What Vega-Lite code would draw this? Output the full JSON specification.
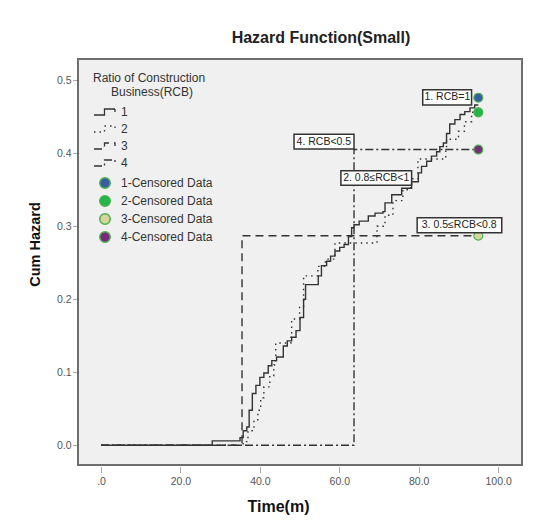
{
  "$schema": "https://vega.github.io/schema/vega-lite/v6.json",
  "width": 444,
  "height": 406,
  "autosize": {"type": "none"},
  "padding": {"left": 78, "top": 59, "right": 16, "bottom": 62},
  "background": "white",
  "title": {"text": "Hazard Function(Small)", "fontSize": 16, "font": "Liberation Sans", "fontWeight": "bold", "color": "#222", "offset": 13, "dx": 21},
  "config": {"view": {"fill": "#f0f0f0", "stroke": "#6e6e6e", "strokeWidth": 2}, "font": "Liberation Sans"},
  "datasets": {
    "curves": [
      {"g": "1", "t": 0, "h": 0}, {"g": "1", "t": 28, "h": 0.006}, {"g": "1", "t": 35, "h": 0.0105}, {"g": "1", "t": 35.8, "h": 0.02}, {"g": "1", "t": 36.7, "h": 0.025}, {"g": "1", "t": 37.3, "h": 0.048}, {"g": "1", "t": 38.1, "h": 0.071}, {"g": "1", "t": 39, "h": 0.082}, {"g": "1", "t": 40, "h": 0.093}, {"g": "1", "t": 41, "h": 0.099}, {"g": "1", "t": 42.1, "h": 0.109}, {"g": "1", "t": 43, "h": 0.116}, {"g": "1", "t": 44.2, "h": 0.121}, {"g": "1", "t": 45.9, "h": 0.136}, {"g": "1", "t": 46.9, "h": 0.143}, {"g": "1", "t": 48, "h": 0.148}, {"g": "1", "t": 49.1, "h": 0.157}, {"g": "1", "t": 50.1, "h": 0.175}, {"g": "1", "t": 51, "h": 0.2}, {"g": "1", "t": 51.5, "h": 0.22}, {"g": "1", "t": 54.7, "h": 0.232}, {"g": "1", "t": 55.5, "h": 0.246}, {"g": "1", "t": 56.8, "h": 0.252}, {"g": "1", "t": 57.8, "h": 0.259}, {"g": "1", "t": 58.9, "h": 0.266}, {"g": "1", "t": 60.1, "h": 0.271}, {"g": "1", "t": 61.2, "h": 0.275}, {"g": "1", "t": 62.3, "h": 0.286}, {"g": "1", "t": 63.1, "h": 0.298}, {"g": "1", "t": 63.7, "h": 0.302}, {"g": "1", "t": 65, "h": 0.307}, {"g": "1", "t": 67.3, "h": 0.314}, {"g": "1", "t": 69, "h": 0.318}, {"g": "1", "t": 71, "h": 0.32}, {"g": "1", "t": 71.5, "h": 0.332}, {"g": "1", "t": 73.2, "h": 0.343}, {"g": "1", "t": 75.7, "h": 0.352}, {"g": "1", "t": 78.2, "h": 0.361}, {"g": "1", "t": 79.9, "h": 0.373}, {"g": "1", "t": 80.7, "h": 0.382}, {"g": "1", "t": 82, "h": 0.389}, {"g": "1", "t": 83.2, "h": 0.396}, {"g": "1", "t": 84.5, "h": 0.402}, {"g": "1", "t": 85.3, "h": 0.409}, {"g": "1", "t": 86.2, "h": 0.414}, {"g": "1", "t": 87, "h": 0.427}, {"g": "1", "t": 87.8, "h": 0.44}, {"g": "1", "t": 89.1, "h": 0.446}, {"g": "1", "t": 90.4, "h": 0.453}, {"g": "1", "t": 91.6, "h": 0.457}, {"g": "1", "t": 92.9, "h": 0.462}, {"g": "1", "t": 94.1, "h": 0.466}, {"g": "1", "t": 95, "h": 0.466},
      {"g": "2", "t": 0, "h": 0}, {"g": "2", "t": 35.8, "h": 0.005}, {"g": "2", "t": 37, "h": 0.02}, {"g": "2", "t": 38.5, "h": 0.035}, {"g": "2", "t": 39.5, "h": 0.048}, {"g": "2", "t": 40.2, "h": 0.065}, {"g": "2", "t": 41, "h": 0.08}, {"g": "2", "t": 42.5, "h": 0.095}, {"g": "2", "t": 43.5, "h": 0.11}, {"g": "2", "t": 44, "h": 0.14}, {"g": "2", "t": 47.8, "h": 0.15}, {"g": "2", "t": 48, "h": 0.173}, {"g": "2", "t": 50, "h": 0.19}, {"g": "2", "t": 51, "h": 0.232}, {"g": "2", "t": 54.6, "h": 0.245}, {"g": "2", "t": 56.5, "h": 0.255}, {"g": "2", "t": 58.9, "h": 0.277}, {"g": "2", "t": 69.5, "h": 0.3}, {"g": "2", "t": 71.5, "h": 0.315}, {"g": "2", "t": 73.5, "h": 0.335}, {"g": "2", "t": 76, "h": 0.35}, {"g": "2", "t": 78, "h": 0.365}, {"g": "2", "t": 79.8, "h": 0.392}, {"g": "2", "t": 86.8, "h": 0.405}, {"g": "2", "t": 87, "h": 0.419}, {"g": "2", "t": 90, "h": 0.43}, {"g": "2", "t": 91.5, "h": 0.443}, {"g": "2", "t": 93.3, "h": 0.456}, {"g": "2", "t": 95, "h": 0.456},
      {"g": "3", "t": 0, "h": 0}, {"g": "3", "t": 35.5, "h": 0.287}, {"g": "3", "t": 95, "h": 0.287},
      {"g": "4", "t": 0, "h": 0}, {"g": "4", "t": 63.7, "h": 0.405}, {"g": "4", "t": 95, "h": 0.405}
    ],
    "cens": [
      {"c": "1-Censored Data", "t": 95, "h": 0.476},
      {"c": "2-Censored Data", "t": 95, "h": 0.456},
      {"c": "3-Censored Data", "t": 95, "h": 0.287},
      {"c": "4-Censored Data", "t": 95, "h": 0.405}
    ],
    "labels": [
      {"label": "1. RCB=1", "t": 87.2, "h": 0.4765, "t1": 81.0, "t2": 93.3, "h1": 0.466, "h2": 0.487},
      {"label": "4. RCB<0.5", "t": 56.1, "h": 0.416, "t1": 48.6, "t2": 63.7, "h1": 0.4056, "h2": 0.426},
      {"label": "2. 0.8≤RCB<1", "t": 69.3, "h": 0.366, "t1": 60.4, "t2": 78.2, "h1": 0.356, "h2": 0.376},
      {"label": "3. 0.5≤RCB<0.8", "t": 90.2, "h": 0.301, "t1": 79.6, "t2": 100.9, "h1": 0.291, "h2": 0.3115}
    ]
  },
  "layer": [
    {
      "data": {"name": "curves"},
      "mark": {"type": "line", "interpolate": "step-after", "strokeWidth": 1.4, "color": "#333"},
      "encoding": {
        "x": {"field": "t", "type": "quantitative", "scale": {"domain": [-5.8, 106], "nice": false, "zero": false},
          "axis": {"values": [0, 20, 40, 60, 80, 100], "labelExpr": "datum.value == 0 ? '.0' : format(datum.value, '.1f')", "title": "Time(m)", "titleX": 200, "domain": false, "grid": false, "tickSize": 6, "tickDash": [1, 1], "tickColor": "#555", "labelColor": "#555", "labelFontSize": 10.5, "labelPadding": 3, "titleFontSize": 16, "titleFontWeight": "bold", "titleColor": "#111", "titlePadding": 12, "offset": 2}},
        "y": {"field": "h", "type": "quantitative", "scale": {"domain": [-0.027, 0.529], "nice": false, "zero": false},
          "axis": {"values": [0, 0.1, 0.2, 0.3, 0.4, 0.5], "format": ".1f", "title": "Cum Hazard", "titleY": 185, "domain": false, "grid": false, "tickSize": 5, "tickDash": [1, 1], "tickColor": "#555", "labelColor": "#555", "labelFontSize": 10.5, "labelPadding": 2, "titleFontSize": 14.5, "titleFontWeight": "bold", "titleColor": "#111", "titlePadding": 14, "offset": 0}},
        "strokeDash": {"field": "g", "type": "nominal",
          "scale": {"domain": ["1", "2", "3", "4"], "range": [[1, 0], [1.5, 4], [8, 5], [8, 3, 2, 3]]},
          "legend": {"title": ["Ratio of Construction", "\u200b\u2002\u2002\u2002Business(RCB)"], "orient": "none", "legendX": 15, "legendY": 14, "symbolType": "M-1,0.6H1.1V-0.6H3.2V0", "symbolSize": 100, "symbolStrokeWidth": 1.3, "symbolStrokeColor": "#333", "labelOffset": 16, "labelFontSize": 12, "labelColor": "#333", "titleFontSize": 12, "titleFontWeight": "normal", "titleColor": "#333", "titleAnchor": "start", "titleAlign": "left", "rowPadding": 5, "titleLineHeight": 14, "titlePadding": 7}}
      }
    },
    {
      "data": {"name": "cens"},
      "mark": {"type": "point", "filled": true, "size": 80, "stroke": "#4cb050", "strokeWidth": 1.2, "opacity": 1},
      "encoding": {
        "x": {"field": "t", "type": "quantitative"},
        "y": {"field": "h", "type": "quantitative"},
        "color": {"field": "c", "type": "nominal",
          "scale": {"domain": ["1-Censored Data", "2-Censored Data", "3-Censored Data", "4-Censored Data"], "range": ["#3a5ba8", "#22b548", "#d8d49a", "#7a2a7c"]},
          "legend": {"title": null, "orient": "none", "legendX": 21, "legendY": 118, "symbolType": "circle", "symbolSize": 110, "symbolStrokeColor": "#4cb050", "symbolStrokeWidth": 1.5, "symbolOpacity": 1, "labelOffset": 10, "labelFontSize": 12, "labelColor": "#333", "rowPadding": 0}}
      }
    },
    {
      "data": {"name": "labels"},
      "mark": {"type": "rect", "fill": "white", "stroke": "#333", "strokeWidth": 1.5},
      "encoding": {
        "x": {"field": "t1", "type": "quantitative"},
        "x2": {"field": "t2"},
        "y": {"field": "h1", "type": "quantitative"},
        "y2": {"field": "h2"}
      }
    },
    {
      "data": {"name": "labels"},
      "mark": {"type": "text", "fontSize": 10.5, "color": "#222", "align": "center", "baseline": "middle"},
      "encoding": {
        "x": {"field": "t", "type": "quantitative"},
        "y": {"field": "h", "type": "quantitative"},
        "text": {"field": "label", "type": "nominal"}
      }
    }
  ]
}
